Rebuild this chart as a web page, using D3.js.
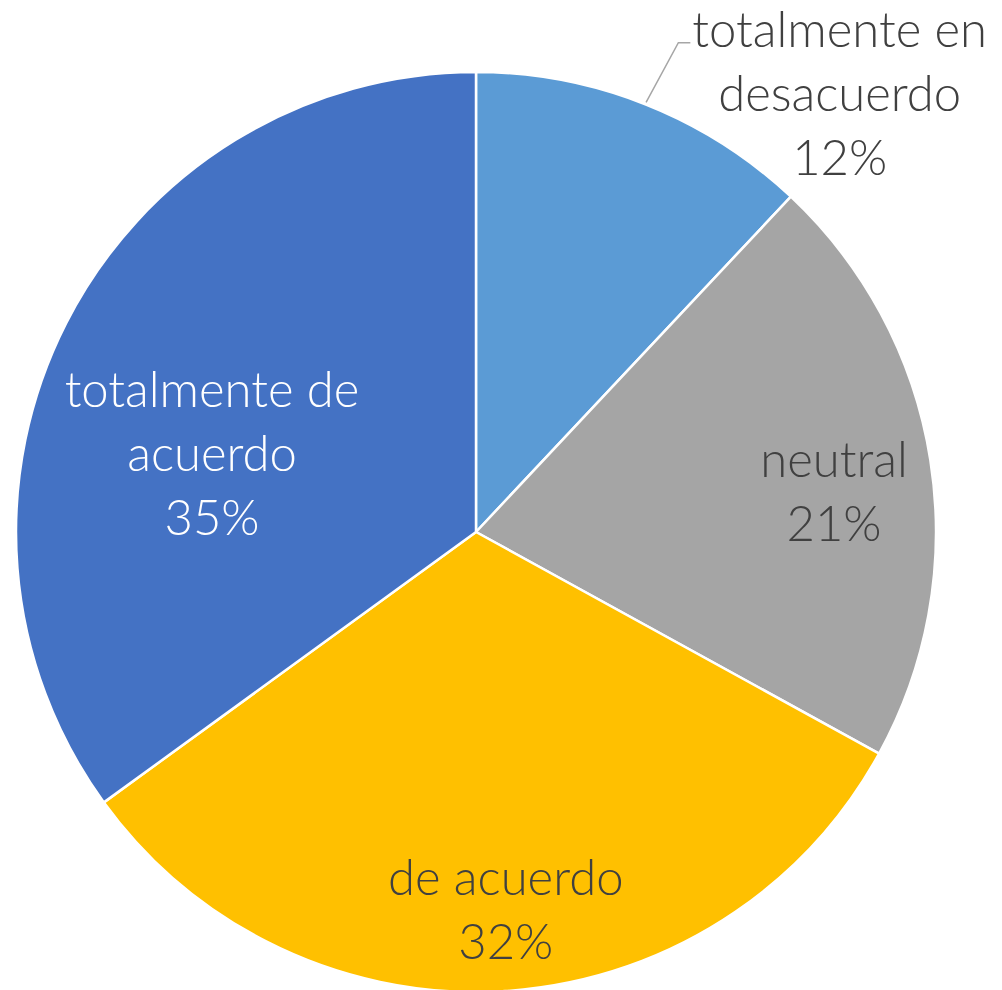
<!DOCTYPE html>
<html>
<head>
<meta charset="utf-8">
<script src="https://cdn.jsdelivr.net/npm/d3@7"></script>
<style>
  html, body { margin: 0; padding: 0; background: #fff; }
  svg text { font-family: "Lato", "Open Sans", sans-serif; font-weight: 300; }
</style>
</head>
<body>
<div id="chart"></div>
<script>
// ── data ─────────────────────────────────────────
const CATEGORIES = ["totalmente en desacuerdo", "neutral", "de acuerdo", "totalmente de acuerdo"];
const SHARES     = [12, 21, 32, 35];
const LABEL_LINES = [["totalmente en", "desacuerdo"], ["neutral"], ["de acuerdo"], ["totalmente de", "acuerdo"]];
const COLORS     = ["#5B9BD5", "#A5A5A5", "#FFC000", "#4472C4"];
const TEXT_FILL  = ["#404040", "#404040", "#404040", "#ffffff"];
// label anchor: polar [angle deg, fraction of radius]
const LABEL_POLAR = [[40.8, 1.21], [86.3, 0.78], [175.7, 0.862], [283, 0.589]];

const W = 1002, H = 990;
const CX = 476, CY = 532, R = 460;
const FS = 49, LH = 64;

const svg = d3.select("#chart").append("svg")
  .attr("width", W).attr("height", H)
  .attr("viewBox", `0 0 ${W} ${H}`);

const g = svg.append("g").attr("transform", `translate(${CX},${CY})`);

const rows = CATEGORIES.map((c, i) => ({ cat: c, v: SHARES[i], i }));
const pie = d3.pie().value(d => d.v).sort(null);
const arcs = pie(rows);
const arc = d3.arc().innerRadius(0).outerRadius(R);

g.selectAll("path.slice").data(arcs).join("path")
  .attr("class", "slice")
  .attr("d", arc)
  .attr("fill", d => COLORS[d.data.i])
  .attr("stroke", "#fff")
  .attr("stroke-width", 2.5)
  .attr("stroke-linejoin", "round");

const pct = d3.format(".0%");
const polar = (deg, r) => {
  const a = deg * Math.PI / 180;
  return [r * Math.sin(a), -r * Math.cos(a)];
};

arcs.forEach(d => {
  const i = d.data.i;
  const lines = LABEL_LINES[i].concat([pct(d.data.v / 100)]);
  const [ax, ay] = polar(LABEL_POLAR[i][0], LABEL_POLAR[i][1] * R);
  const y0 = ay - (lines.length - 1) / 2 * LH;
  const t = g.append("text")
    .attr("text-anchor", "middle")
    .attr("fill", TEXT_FILL[i])
    .attr("font-size", FS);
  lines.forEach((ln, k) => {
    t.append("tspan").attr("x", ax).attr("y", y0 + k * LH).text(ln);
  });

  // leader line for the label placed outside the pie
  if (LABEL_POLAR[i][1] > 1) {
    const mid = (d.startAngle + d.endAngle) / 2 * 180 / Math.PI;
    const [sx, sy] = polar(mid, R + 2);
    const bb = t.node().getBBox();
    const ex = bb.x - 2, ey = y0 - FS * 0.08;
    g.append("path")
      .attr("d", `M${sx},${sy}L${ex - 12},${ey}L${ex},${ey}`)
      .attr("fill", "none")
      .attr("stroke", "#A6A6A6")
      .attr("stroke-width", 1.5);
  }
});
</script>
</body>
</html>
